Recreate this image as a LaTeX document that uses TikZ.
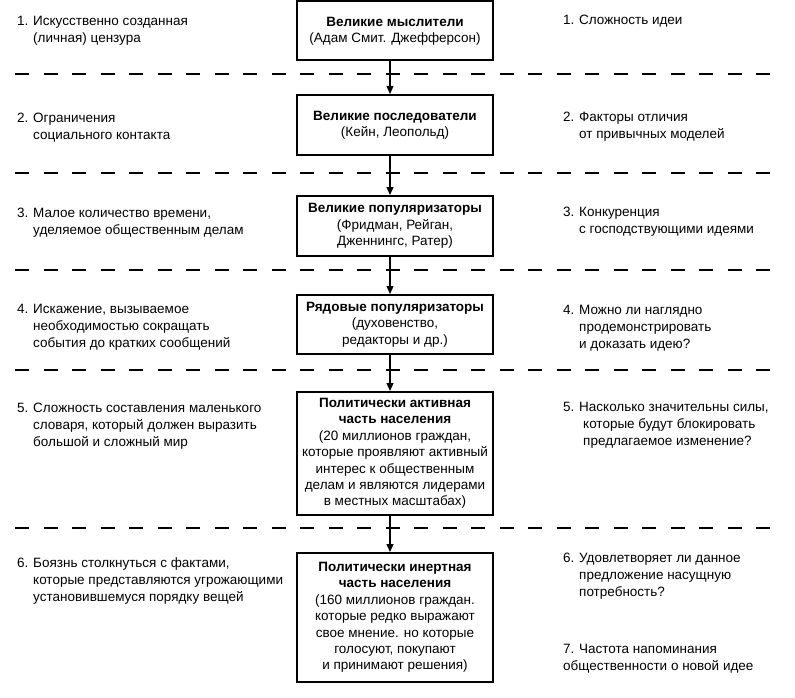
\documentclass[tikz,border=0pt]{standalone}
\usepackage{fontspec}
\setmainfont{Liberation Sans}
\usetikzlibrary{arrows.meta}
\newcommand\itemlbl[1]{\makebox[16pt][l]{#1}}
\newcommand\itemind{\hspace*{16pt}}
\begin{document}
\begin{tikzpicture}[x=1pt,y=-1pt,
  txt/.style={anchor=north west, inner sep=0pt, align=left, font=\fontsize{13.5}{16.8}\selectfont},
  box/.style={draw, line width=2pt, minimum width=196pt, inner sep=0pt, align=center, font=\fontsize{13.5}{16.4}\selectfont},
  sep/.style={line width=2.2pt, dash pattern=on 14pt off 14.5pt},
  arr/.style={line width=1.2pt, -{Triangle[length=8pt,width=7pt]}}
]
\useasboundingbox (0,0) rectangle (795,698);
\fill[white] (0,0) rectangle (795,698);

% separators
\foreach \yy in {74,173,270,370,528}
  \draw[sep] (15,\yy) -- (780,\yy);

% boxes
\node[box, minimum height=59pt] (b1) at (395,31) {\textbf{Великие мыслители}\\(Адам Смит. Джефферсон)};
\node[box, minimum height=60pt] (b2) at (395,125) {\textbf{Великие последователи}\\(Кейн, Леопольд)};
\node[box, minimum height=60pt] (b3) at (395,226) {\textbf{Великие популяризаторы}\\(Фридман, Рейган,\\Дженнингс, Ратер)};
\node[box, minimum height=59pt] (b4) at (395,324.5) {\textbf{Рядовые популяризаторы}\\(духовенство,\\редакторы и др.)};
\node[box, minimum height=123pt] (b5) at (395,453.5) {\textbf{Политически активная}\\\textbf{часть населения}\\(20 миллионов граждан,\\которые проявляют активный\\интерес к общественным\\делам и являются лидерами\\в местных масштабах)};
\node[box, minimum height=129pt] (b6) at (395,617.5) {\textbf{Политически инертная}\\\textbf{часть населения}\\(160 миллионов граждан.\\которые редко выражают\\свое мнение. но которые\\голосуют, покупают\\и принимают решения)};

% arrows
\foreach \a/\b in {b1/b2,b2/b3,b3/b4,b4/b5,b5/b6}
  \draw[arr] ([xshift=-5pt]\a.south) -- ([xshift=-5pt]\b.north);

% left texts
\node[txt] (l1) at (17,14) {\strut\itemlbl{1.}Искусственно созданная\\\itemind(личная) цензура};
\node[txt] (l2) at (17,111) {\strut\itemlbl{2.}Ограничения\\\itemind социального контакта};
\node[txt] (l3) at (17,206) {\strut\itemlbl{3.}Малое количество времени,\\\itemind уделяемое общественным делам};
\node[txt] (l4) at (17,302) {\strut\itemlbl{4.}Искажение, вызываемое\\\itemind необходимостью сокращать\\\itemind события до кратких сообщений};
\node[txt] (l5) at (17,401) {\strut\itemlbl{5.}Сложность составления маленького\\\itemind словаря, который должен выразить\\\itemind большой и сложный мир};
\node[txt] (l6) at (17,556) {\strut\itemlbl{6.}Боязнь столкнуться с фактами,\\\itemind которые представляются угрожающими\\\itemind установившемуся порядку вещей};

% right texts
\node[txt] (r1) at (563,13) {\strut\itemlbl{1.}Сложность идеи};
\node[txt] (r2) at (563,110) {\strut\itemlbl{2.}Факторы отличия\\\itemind от привычных моделей};
\node[txt] (r3) at (563,205) {\strut\itemlbl{3.}Конкуренция\\\itemind с господствующими идеями};
\node[txt] (r4) at (563,303) {\strut\itemlbl{4.}Можно ли наглядно\\\itemind продемонстрировать\\\itemind и доказать идею?};
\node[txt] (r5) at (563,400) {\strut\itemlbl{5.}Насколько значительны силы,\\\hspace*{20pt}которые будут блокировать\\\hspace*{20pt}предлагаемое изменение?};
\node[txt] (r6) at (563,551) {\strut\itemlbl{6.}Удовлетворяет ли данное\\\itemind предложение насущную\\\itemind потребность?};
\node[txt] (r7) at (563,642) {\strut\itemlbl{7.}Частота напоминания\\общественности о новой идее};
\end{tikzpicture}
\end{document}
